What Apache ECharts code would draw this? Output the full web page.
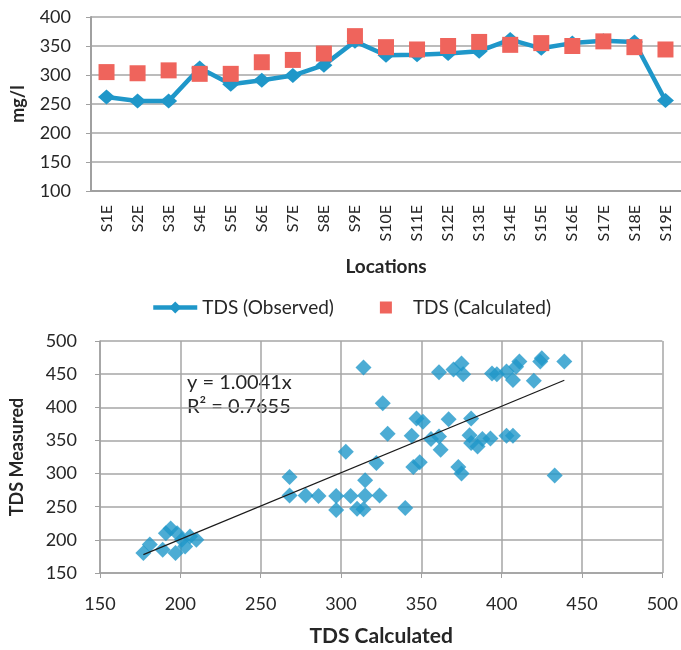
<!DOCTYPE html>
<html>
<head>
<meta charset="utf-8">
<script src="https://cdn.jsdelivr.net/npm/echarts@6/dist/echarts.min.js"></script>
<style>
  html, body { margin: 0; padding: 0; background: #fff; }
  #chart { width: 681px; height: 650px; }
</style>
</head>
<body>
<div id="chart"></div>
<script>
// top chart: TDS per location
const locations = ['S1E', 'S2E', 'S3E', 'S4E', 'S5E', 'S6E', 'S7E', 'S8E', 'S9E', 'S10E',
  'S11E', 'S12E', 'S13E', 'S14E', 'S15E', 'S16E', 'S17E', 'S18E', 'S19E']
const tdsObserved = [262, 255, 255, 312, 284, 291, 299, 317, 358, 334,
  335, 337, 341, 361, 346, 355, 359, 357, 256]
const tdsCalculated = [305, 303, 308, 302, 302, 322, 326, 337, 367, 348,
  344, 350, 357, 352, 355, 350, 358, 348, 344]

// bottom chart: [calculated, measured]
const scatterPoints = [
  [177, 180], [181, 193], [189, 185], [191, 210], [194, 217], [197, 180], [198, 210],
  [201, 200], [203, 190], [206, 205], [210, 200],
  [268, 295], [268, 267], [278, 267], [286, 266], [297, 266], [297, 245], [303, 333],
  [306, 266], [310, 247], [314, 246], [315, 267], [315, 290], [314, 460], [324, 267],
  [322, 316], [326, 406], [329, 360],
  [340, 248], [344, 357], [345, 310], [349, 317], [347, 383], [351, 378], [356, 352],
  [361, 356], [362, 336], [361, 453], [367, 382], [370, 457], [375, 466], [376, 450],
  [373, 310], [375, 300], [381, 383], [380, 358], [381, 346], [385, 341], [388, 352],
  [393, 353], [394, 451], [397, 450], [403, 357], [407, 357], [403, 454], [407, 441],
  [409, 461], [411, 469], [420, 440], [424, 469], [425, 474], [439, 469], [433, 297]
]
const slope = 1.0041
const fitText = ['y = 1.0041x', 'R² = 0.7655']

const blue = '#1f97c9'
const red = '#ef645c'
const txt = '#262626'
const font = 'Lato'

const xs = scatterPoints.map(p => p[0])
const xMin = Math.min(...xs)
const xMax = Math.max(...xs)
const trend = [[xMin, xMin * slope], [xMax, xMax * slope]]

const chart = echarts.init(document.getElementById('chart'))
chart.setOption({
  animation: false,
  textStyle: { fontFamily: font, color: txt },
  legend: {
    left: 146,
    top: 293,
    itemWidth: 44,
    itemHeight: 15,
    itemGap: 30,
    textStyle: { fontSize: 19, color: txt, fontFamily: font },
    data: [
      { name: 'TDS (Observed)', lineStyle: { width: 4.5 } },
      { name: 'TDS (Calculated)' }
    ]
  },
  grid: [
    { left: 91, top: 17, width: 590, height: 174 },
    { left: 99, top: 341, width: 564, height: 232 }
  ],
  xAxis: [
    {
      gridIndex: 0,
      type: 'category',
      data: locations,
      name: 'Locations',
      nameLocation: 'middle',
      nameGap: 66,
      nameTextStyle: { fontSize: 19, fontWeight: 'bold', color: txt },
      axisLine: { lineStyle: { color: '#a0a0a0', width: 2 } },
      axisTick: { show: false },
      axisLabel: { rotate: 90, fontSize: 16, color: txt, margin: 14 }
    },
    {
      gridIndex: 1,
      type: 'value',
      min: 150,
      max: 500,
      interval: 50,
      name: 'TDS Calculated',
      nameLocation: 'middle',
      nameGap: 53,
      nameTextStyle: { fontSize: 21, fontWeight: 'bold', color: txt },
      axisLine: { show: true, onZero: false, lineStyle: { color: '#a0a0a0', width: 1.5 } },
      axisTick: { show: true, length: 5, lineStyle: { color: '#a0a0a0' } },
      axisLabel: { fontSize: 18, color: txt, margin: 22 },
      splitLine: { lineStyle: { color: '#a6a6a6', width: 1.5 } }
    }
  ],
  yAxis: [
    {
      gridIndex: 0,
      type: 'value',
      min: 100,
      max: 400,
      interval: 50,
      name: 'mg/l',
      nameLocation: 'middle',
      nameGap: 64,
      nameRotate: 90,
      nameTextStyle: { fontSize: 18, fontWeight: 'bold', color: txt },
      axisLine: { show: true, lineStyle: { color: '#a0a0a0', width: 2 } },
      axisTick: { show: true, length: 5, lineStyle: { color: '#a0a0a0' } },
      axisLabel: { fontSize: 18, color: txt, margin: 20 },
      splitLine: { lineStyle: { color: '#a6a6a6', width: 1.5 } }
    },
    {
      gridIndex: 1,
      type: 'value',
      min: 150,
      max: 500,
      interval: 50,
      name: 'TDS Measured',
      nameLocation: 'middle',
      nameGap: 74,
      nameRotate: 90,
      nameTextStyle: { fontSize: 18, fontWeight: 'bold', color: txt },
      axisLine: { show: true, onZero: false, lineStyle: { color: '#a0a0a0', width: 1.5 } },
      axisTick: { show: true, length: 5, lineStyle: { color: '#a0a0a0' } },
      axisLabel: { fontSize: 18, color: txt, margin: 23 },
      splitLine: { lineStyle: { color: '#a6a6a6', width: 1.5 } }
    }
  ],
  series: [
    {
      name: 'TDS (Observed)',
      type: 'line',
      xAxisIndex: 0,
      yAxisIndex: 0,
      data: tdsObserved,
      symbol: 'diamond',
      symbolSize: [17, 15],
      itemStyle: { color: blue },
      lineStyle: { color: blue, width: 4.5 },
      z: 2
    },
    {
      name: 'TDS (Calculated)',
      type: 'line',
      xAxisIndex: 0,
      yAxisIndex: 0,
      data: tdsCalculated,
      symbol: 'rect',
      symbolSize: 16,
      itemStyle: { color: red },
      lineStyle: { width: 0 },
      z: 3
    },
    {
      type: 'scatter',
      xAxisIndex: 1,
      yAxisIndex: 1,
      data: scatterPoints,
      symbol: 'diamond',
      symbolSize: 16,
      itemStyle: { color: blue }
    },
    {
      type: 'line',
      xAxisIndex: 1,
      yAxisIndex: 1,
      data: trend,
      symbol: 'none',
      lineStyle: { color: '#1a1a1a', width: 1.2 },
      z: 4
    }
  ],
  graphic: [
    {
      type: 'text',
      left: 187,
      top: 371,
      style: { text: fitText.join('\n'), fontSize: 20, lineHeight: 24, fill: txt, fontFamily: font }
    }
  ]
})
</script>
</body>
</html>
